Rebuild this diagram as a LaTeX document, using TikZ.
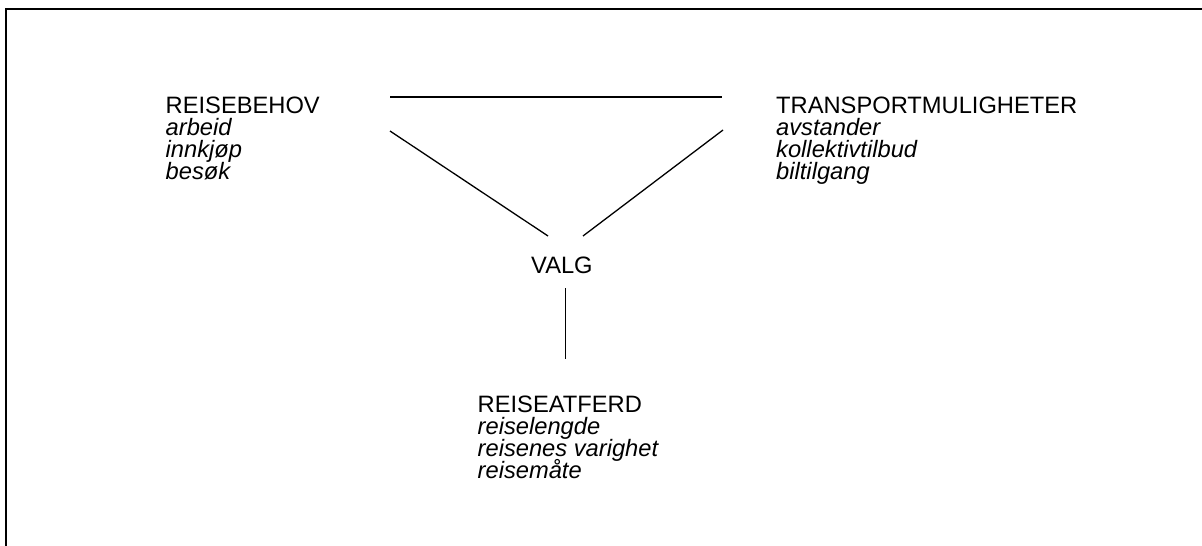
\documentclass[tikz,border=0pt]{standalone}
\usepackage{fontspec}
\setmainfont{Liberation Sans}
\begin{document}
\begin{tikzpicture}[x=1pt,y=-1pt,
  lbl/.style={anchor=base west,inner sep=0pt,font=\fontsize{23.7}{27}\selectfont},
  itl/.style={lbl,font=\fontsize{23.7}{27}\selectfont\itshape},
  conn/.style={line width=1.3pt,line cap=butt},
  frame/.style={line width=2pt}]
\useasboundingbox (0,0) rectangle (1202,546);
\draw[frame] (6,546) -- (6,9) -- (1202,9);
% left block
\node[lbl] (rb) at (165.5,113.5) {REISEBEHOV};
\node[itl] (rb1) at (165.5,135.5) {arbeid};
\node[itl] (rb2) at (165.5,157.5) {innkjøp};
\node[itl] (rb3) at (165.5,179.5) {besøk};
% right block
\node[lbl] (tm) at (776,113.5) {TRANSPORTMULIGHETER};
\node[itl] (tm1) at (776,135.5) {avstander};
\node[itl] (tm2) at (776,157.5) {kollektivtilbud};
\node[itl] (tm3) at (776,179.5) {biltilgang};
% center
\node[lbl] (valg) at (531,273) {VALG};
% bottom block
\node[lbl] (ra) at (477.5,412) {REISEATFERD};
\node[itl] (ra1) at (477.5,434) {reiselengde};
\node[itl] (ra2) at (477.5,456) {reisenes varighet};
\node[itl] (ra3) at (477.5,478) {reisemåte};
% connector ends
\coordinate (hl) at (390,97);
\coordinate (hr) at (722,97);
\coordinate (dl) at (390,131);
\coordinate (dlb) at (548,236);
\coordinate (dr) at (723,130);
\coordinate (drb) at (583,236);
\coordinate (vt) at (565.5,288);
\coordinate (vb) at (565.5,359);
\draw[conn] (hl) -- (hr);
\draw[conn] (dl) -- (dlb);
\draw[conn] (dr) -- (drb);
\draw[conn] (vt) -- (vb);
\end{tikzpicture}
\end{document}
